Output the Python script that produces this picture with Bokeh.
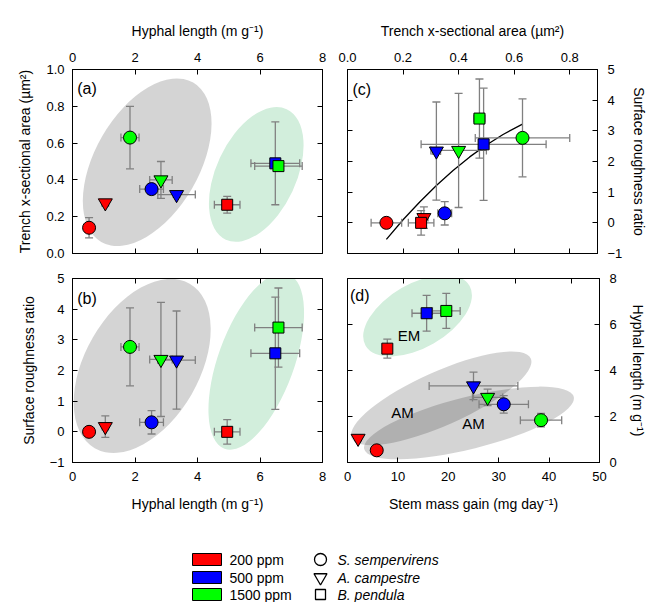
import numpy as np
from bokeh.plotting import figure
from bokeh.models import Range1d, LinearAxis, FixedTicker, PrintfTickFormatter
from bokeh.layouts import column, row
from bokeh.embed import file_html
from bokeh.resources import INLINE
from bokeh.core.properties import value

# ---------------- data ----------------
species = ["S. sempervirens", "A. campestre", "B. pendula"]
species_markers = ["circle", "inverted_triangle", "square"]
ppm_labels = ["200 ppm", "500 ppm", "1500 ppm"]
ppm_colors = ["#ff0000", "#0000ff", "#00ff00"]

# rows: species (S. sempervirens, A. campestre, B. pendula); cols: 200, 500, 1500 ppm
hyphal_length = [[0.53, 2.53, 1.84], [1.05, 3.33, 2.83], [4.95, 6.49, 6.59]]
hyphal_length_err = [[0.08, 0.38, 0.29], [0.10, 0.60, 0.36], [0.41, 0.78, 0.76]]
trench_area = [[0.14, 0.35, 0.63], [0.275, 0.32, 0.40], [0.265, 0.49, 0.475]]
trench_area_err = [[0.055, 0.025, 0.17], [0.015, 0.015, 0.10], [0.046, 0.225, 0.02]]
roughness = [[0.0, 0.31, 2.77], [0.17, 2.34, 2.36], [0.0, 2.56, 3.40]]
roughness_err = [[0.10, 0.38, 1.27], [0.35, 1.60, 1.86], [0.40, 1.83, 1.29]]
stem_gain = [[5.8, 31.0, 38.4], [2.1, 25.0, 27.8], [7.9, 15.7, 19.6]]
stem_gain_err = [[0.5, 4.9, 4.1], [0.5, 8.8, 3.0], [0.5, 2.9, 2.75]]

# fitted curve in panel (c)
fit_x = [0.14, 0.20, 0.26, 0.32, 0.38, 0.44, 0.50, 0.56, 0.63]
fit_y = [-0.54, 0.10, 0.68, 1.22, 1.71, 2.15, 2.54, 2.88, 3.22]

HL_TITLE = "Hyphal length (m g\u207b\u00b9)"
TA_TITLE = "Trench x-sectional area (\u00b5m\u00b2)"
SR_TITLE = "Surface roughness ratio"
SMG_TITLE = "Stem mass gain (mg day\u207b\u00b9)"

FONT = "Liberation Sans"
GRAY_FILL = "black"
GRAY_ALPHA = 0.17
GREEN_FILL = "#d2eedc"
ERR_COLOR = "#808080"


def make_fig(xr, yr, w, h, mbl, mbr, mbt, mbb):
    p = figure(width=w, height=h, x_range=Range1d(*xr), y_range=Range1d(*yr),
               x_axis_location=None, y_axis_location=None, toolbar_location=None,
               output_backend="svg", min_border_left=mbl, min_border_right=mbr,
               min_border_top=mbt, min_border_bottom=mbb)
    p.outline_line_color = "black"
    p.outline_line_width = 1
    p.background_fill_color = "white"
    p.border_fill_color = "white"
    p.grid.visible = False
    return p


def add_axis(p, side, ticks, labels=True, fmt=None, title=None,
             label_standoff=8, title_standoff=8, range_name=None):
    kw = {}
    if range_name:
        kw["x_range_name" if side in ("above", "below") else "y_range_name"] = range_name
    ax = LinearAxis(ticker=FixedTicker(ticks=ticks), **kw)
    ax.major_tick_in = 5
    ax.major_tick_out = 0
    ax.minor_tick_line_color = None
    ax.axis_line_color = "black"
    ax.major_tick_line_color = "black"
    ax.major_label_text_font = FONT
    ax.major_label_text_font_size = "13px"
    ax.major_label_text_color = "black"
    if fmt:
        ax.formatter = PrintfTickFormatter(format=fmt)
    if labels:
        ax.major_label_standoff = label_standoff
    else:
        ax.major_label_text_font_size = "0px"
        ax.major_label_standoff = 0
        ax.major_label_overrides = {t: "" for t in ticks}
    if title:
        ax.axis_label = title
        ax.axis_label_text_font = FONT
        ax.axis_label_text_font_size = "14px"
        ax.axis_label_text_font_style = "normal"
        ax.axis_label_text_color = "black"
        ax.axis_label_standoff = title_standoff
    p.add_layout(ax, side)
    return ax


def add_ellipses(p, ells):
    for (cx, cy, w, h, ang, color, alpha) in ells:
        p.ellipse(x=[cx], y=[cy], width=[w], height=[h], angle=[np.deg2rad(ang)],
                  width_units="screen", height_units="screen",
                  fill_color=color, fill_alpha=alpha, line_color=None)


def flat(a):
    return [v for r in a for v in r]


def add_errorbars(p, xs, ys, xe, ye):
    xs, ys, xe, ye = map(lambda a: np.array(flat(a), dtype=float), (xs, ys, xe, ye))
    m = ye > 0
    p.segment(x0=xs[m], y0=ys[m] - ye[m], x1=xs[m], y1=ys[m] + ye[m],
              line_color=ERR_COLOR, line_width=1.3)
    p.scatter(np.concatenate([xs[m], xs[m]]), np.concatenate([ys[m] - ye[m], ys[m] + ye[m]]),
              marker="dash", size=8, line_color=ERR_COLOR, line_width=1.3)
    m = xe > 0
    p.segment(x0=xs[m] - xe[m], y0=ys[m], x1=xs[m] + xe[m], y1=ys[m],
              line_color=ERR_COLOR, line_width=1.3)
    p.scatter(np.concatenate([xs[m] - xe[m], xs[m] + xe[m]]), np.concatenate([ys[m], ys[m]]),
              marker="dash", angle=np.pi / 2, size=8, line_color=ERR_COLOR, line_width=1.3)


MSIZE = {"circle": 13, "inverted_triangle": 14, "square": 11}


def add_markers(p, xs, ys):
    for si, mk in enumerate(species_markers):
        for ci, col in enumerate(ppm_colors):
            p.scatter([xs[si][ci]], [ys[si][ci]], marker=mk, size=MSIZE[mk],
                      fill_color=col, line_color="black", line_width=1)


def panel_label(p, x, y, txt):
    p.text(x=[x], y=[y], text=[txt], text_font=value(FONT), text_font_size="16px",
           text_align="left", text_baseline="middle", text_color="black")


# ---------------- panel (a) ----------------
pa = make_fig((0, 8), (0, 1), 335, 265, 72, 13, 69, 12)
add_axis(pa, "left", [0, 0.2, 0.4, 0.6, 0.8, 1.0], fmt="%.1f", title=TA_TITLE,
         label_standoff=8, title_standoff=10)
add_axis(pa, "above", [0, 2, 4, 6, 8], title=HL_TITLE, label_standoff=8, title_standoff=11)
add_axis(pa, "right", [0.2, 0.4, 0.6, 0.8], labels=False)
add_axis(pa, "below", [2, 4, 6], labels=False)
add_ellipses(pa, [(2.39, 0.496, 184, 104, 60, GRAY_FILL, GRAY_ALPHA),
                  (5.88, 0.43, 144, 80, 65, GREEN_FILL, 1.0)])
add_errorbars(pa, hyphal_length, trench_area, hyphal_length_err, trench_area_err)
add_markers(pa, hyphal_length, trench_area)
panel_label(pa, 0.15, 0.895, "(a)")

# ---------------- panel (c) ----------------
pc = make_fig((0, 0.9), (-1, 5), 315, 265, 12, 51, 69, 12)
add_axis(pc, "above", [0, 0.2, 0.4, 0.6, 0.8], fmt="%.1f", title=TA_TITLE,
         label_standoff=8, title_standoff=11)
add_axis(pc, "right", [-1, 0, 1, 2, 3, 4, 5], title=SR_TITLE, label_standoff=10, title_standoff=6)
add_axis(pc, "left", [0, 1, 2, 3, 4], labels=False)
add_axis(pc, "below", [0.2, 0.4, 0.6, 0.8], labels=False)
pc.line(fit_x, fit_y, line_color="black", line_width=1.3)
add_errorbars(pc, trench_area, roughness, trench_area_err, roughness_err)
add_markers(pc, trench_area, roughness)
panel_label(pc, 0.018, 4.35, "(c)")

# ---------------- panel (b) ----------------
pb = make_fig((0, 8), (-1, 5), 335, 260, 72, 13, 13, 63)
add_axis(pb, "left", [-1, 0, 1, 2, 3, 4, 5], title=SR_TITLE, label_standoff=8, title_standoff=10)
add_axis(pb, "below", [0, 2, 4, 6, 8], title=HL_TITLE, label_standoff=9, title_standoff=12)
add_axis(pb, "right", [0, 1, 2, 3, 4], labels=False)
add_axis(pb, "above", [2, 4, 6], labels=False)
add_ellipses(pb, [(2.23, 2.15, 190, 114, 60, GRAY_FILL, GRAY_ALPHA),
                  (5.88, 2.30, 186, 76, 70, GREEN_FILL, 1.0)])
add_errorbars(pb, hyphal_length, roughness, hyphal_length_err, roughness_err)
add_markers(pb, hyphal_length, roughness)
panel_label(pb, 0.15, 4.35, "(b)")

# ---------------- panel (d) ----------------
pd_ = make_fig((0, 50), (0, 8), 315, 260, 12, 51, 13, 63)
pd_.extra_x_ranges = {"top": Range1d(0, 0.9)}
add_axis(pd_, "right", [0, 2, 4, 6, 8], title=HL_TITLE, label_standoff=10, title_standoff=10)
add_axis(pd_, "below", [0, 10, 20, 30, 40, 50], title=SMG_TITLE, label_standoff=9, title_standoff=12)
add_axis(pd_, "left", [2, 4, 6], labels=False)
add_axis(pd_, "above", [0.2, 0.4, 0.6, 0.8], labels=False, range_name="top")
add_ellipses(pd_, [(13.9, 6.38, 120, 64, 30, GREEN_FILL, 1.0),
                   (18.6, 2.79, 196, 54, 24, GRAY_FILL, GRAY_ALPHA),
                   (24.1, 1.72, 216, 52, 14, GRAY_FILL, GRAY_ALPHA)])
pd_.text(x=[12.2, 10.9, 25.0], y=[5.52, 2.19, 1.68], text=["EM", "AM", "AM"],
         text_font=value(FONT), text_font_size="15px", text_align="center",
         text_baseline="middle", text_color="black")
add_errorbars(pd_, stem_gain, hyphal_length, stem_gain_err, hyphal_length_err)
add_markers(pd_, stem_gain, hyphal_length)
panel_label(pd_, 0.5, 7.25, "(d)")

# ---------------- legend ----------------
LW, LH = 650, 77
leg = figure(width=LW, height=LH, x_range=Range1d(0, LW), y_range=Range1d(0, LH),
             toolbar_location=None, output_backend="svg", min_border=0,
             x_axis_location=None, y_axis_location=None)
leg.outline_line_color = None
leg.grid.visible = False
row_y = [43, 25, 8]
leg.rect(x=[206.5] * 3, y=row_y, width=29, height=12, fill_color=ppm_colors,
         line_color="black", line_width=1)
leg.text(x=[229] * 3, y=row_y, text=ppm_labels, text_font=value(FONT),
         text_font_size="14px", text_align="left", text_baseline="middle", text_color="black")
for yy, mk in zip(row_y, species_markers):
    leg.scatter([320], [yy], marker=mk, size=MSIZE[mk] - 1, fill_color=None,
                line_color="black", line_width=1.3)
leg.text(x=[337] * 3, y=row_y, text=species, text_font=value(FONT),
         text_font_size="14px", text_font_style="italic", text_align="left",
         text_baseline="middle", text_color="black")

layout = column(row(pa, pc), row(pb, pd_), leg)
open("out.html", "w").write(file_html(layout, INLINE))
